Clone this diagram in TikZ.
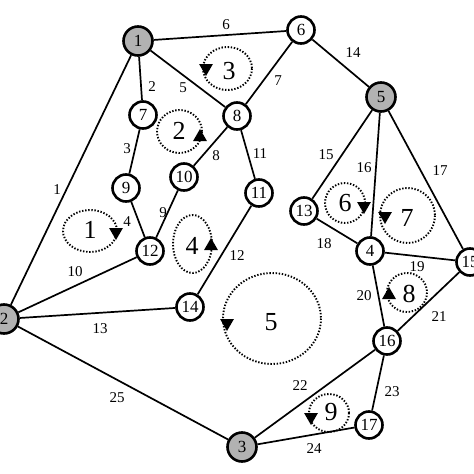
\documentclass[tikz,border=0pt]{standalone}
\usepackage{fontspec}
\setmainfont{Liberation Serif}
\usetikzlibrary{shapes.geometric}

\begin{document}
\begin{tikzpicture}[x=1pt, y=-1pt,
    bus/.style={circle, draw, line width=2.6pt, fill=white, minimum size=27pt, inner sep=0pt, font=\fontsize{17}{17}\selectfont},
    slack/.style={bus, fill=gray!60, minimum size=29pt},
    branch/.style={line width=1.7pt},
    mesh/.style={draw, line width=1.9pt, dash pattern=on 1.4pt off 1.7pt},
    blabel/.style={font=\fontsize{15}{15}\selectfont, inner sep=0pt},
    mlabel/.style={font=\fontsize{26}{26}\selectfont, inner sep=0pt},
    tipup/.style={regular polygon, regular polygon sides=3, fill, inner sep=0pt, minimum size=16pt},
    tipdown/.style={tipup, shape border rotate=180}]
    \useasboundingbox (0,0) rectangle (474,474);
    % buses
    \node[slack] (b1) at (138,41) {1};
    \node[slack] (b2) at (4,319) {2};
    \node[slack] (b3) at (242,447) {3};
    \node[slack] (b5) at (381,97) {5};
    \node[bus] (b4) at (370,251) {4};
    \node[bus] (b6) at (301,30) {6};
    \node[bus] (b7) at (143,115) {7};
    \node[bus] (b8) at (237,116) {8};
    \node[bus] (b9) at (126,188) {9};
    \node[bus] (b10) at (184,177) {10};
    \node[bus] (b11) at (259,193) {11};
    \node[bus] (b12) at (150,251) {12};
    \node[bus] (b13) at (304,211) {13};
    \node[bus] (b14) at (190,307) {14};
    \node[bus] (b15) at (470,262) {15};
    \node[bus] (b16) at (387,341) {16};
    \node[bus] (b17) at (369,425) {17};
    % branches
    \draw[branch] (b1) -- (b2);   \node[blabel] (l1) at (57,190) {1};
    \draw[branch] (b1) -- (b7);   \node[blabel] (l2) at (152,87) {2};
    \draw[branch] (b7) -- (b9);   \node[blabel] (l3) at (127,149) {3};
    \draw[branch] (b9) -- (b12);  \node[blabel] (l4) at (127,222) {4};
    \draw[branch] (b1) -- (b8);   \node[blabel] (l5) at (183,88) {5};
    \draw[branch] (b1) -- (b6);   \node[blabel] (l6) at (226,25) {6};
    \draw[branch] (b6) -- (b8);   \node[blabel] (l7) at (278,81) {7};
    \draw[branch] (b8) -- (b10);  \node[blabel] (l8) at (216,156) {8};
    \draw[branch] (b10) -- (b12); \node[blabel] (l9) at (163,213) {9};
    \draw[branch] (b2) -- (b12);  \node[blabel] (l10) at (75,272) {10};
    \draw[branch] (b8) -- (b11);  \node[blabel] (l11) at (260,154) {11};
    \draw[branch] (b11) -- (b14); \node[blabel] (l12) at (237,256) {12};
    \draw[branch] (b2) -- (b14);  \node[blabel] (l13) at (100,329) {13};
    \draw[branch] (b6) -- (b5);   \node[blabel] (l14) at (353,53) {14};
    \draw[branch] (b5) -- (b13);  \node[blabel] (l15) at (326,155) {15};
    \draw[branch] (b5) -- (b4);   \node[blabel] (l16) at (364,168) {16};
    \draw[branch] (b5) -- (b15);  \node[blabel] (l17) at (440,171) {17};
    \draw[branch] (b13) -- (b4);  \node[blabel] (l18) at (324,244) {18};
    \draw[branch] (b4) -- (b15);  \node[blabel] (l19) at (417,267) {19};
    \draw[branch] (b4) -- (b16);  \node[blabel] (l20) at (364,296) {20};
    \draw[branch] (b15) -- (b16); \node[blabel] (l21) at (439,317) {21};
    \draw[branch] (b3) -- (b16);  \node[blabel] (l22) at (300,386) {22};
    \draw[branch] (b16) -- (b17); \node[blabel] (l23) at (392,392) {23};
    \draw[branch] (b3) -- (b17);  \node[blabel] (l24) at (314,449) {24};
    \draw[branch] (b2) -- (b3);   \node[blabel] (l25) at (117,398) {25};
    % meshes
    \draw[mesh] (90,231) ellipse (27 and 21);
    \node[mlabel] (m1) at (90,230) {1};
    \node[tipdown] (t1) at (116,232) {};
    \draw[mesh] (179.5,131.5) ellipse (22.5 and 21.5);
    \node[mlabel] (m2) at (179,131) {2};
    \node[tipup] (t2) at (200,137) {};
    \draw[mesh] (227.5,68.5) ellipse (24.5 and 21.5);
    \node[mlabel] (m3) at (229,71) {3};
    \node[tipdown] (t3) at (206,68) {};
    \draw[mesh] (192.5,244) ellipse (19.5 and 29);
    \node[mlabel] (m4) at (192,246) {4};
    \node[tipup] (t4) at (211,246) {};
    \draw[mesh] (272,318.5) ellipse (49 and 45.5);
    \node[mlabel] (m5) at (271,322) {5};
    \node[tipdown] (t5) at (227,323) {};
    \draw[mesh] (345,203) circle (20);
    \node[mlabel] (m6) at (345,203) {6};
    \node[tipdown] (t6) at (364,206) {};
    \draw[mesh] (407.5,215.5) circle (27.5);
    \node[mlabel] (m7) at (407,218) {7};
    \node[tipdown] (t7) at (385,216) {};
    \draw[mesh] (407,292.5) ellipse (20 and 19.5);
    \node[mlabel] (m8) at (409,294) {8};
    \node[tipup] (t8) at (389,295) {};
    \draw[mesh] (329,413) ellipse (20 and 19);
    \node[mlabel] (m9) at (331,412) {9};
    \node[tipdown] (t9) at (311,417) {};
\end{tikzpicture}
\end{document}
